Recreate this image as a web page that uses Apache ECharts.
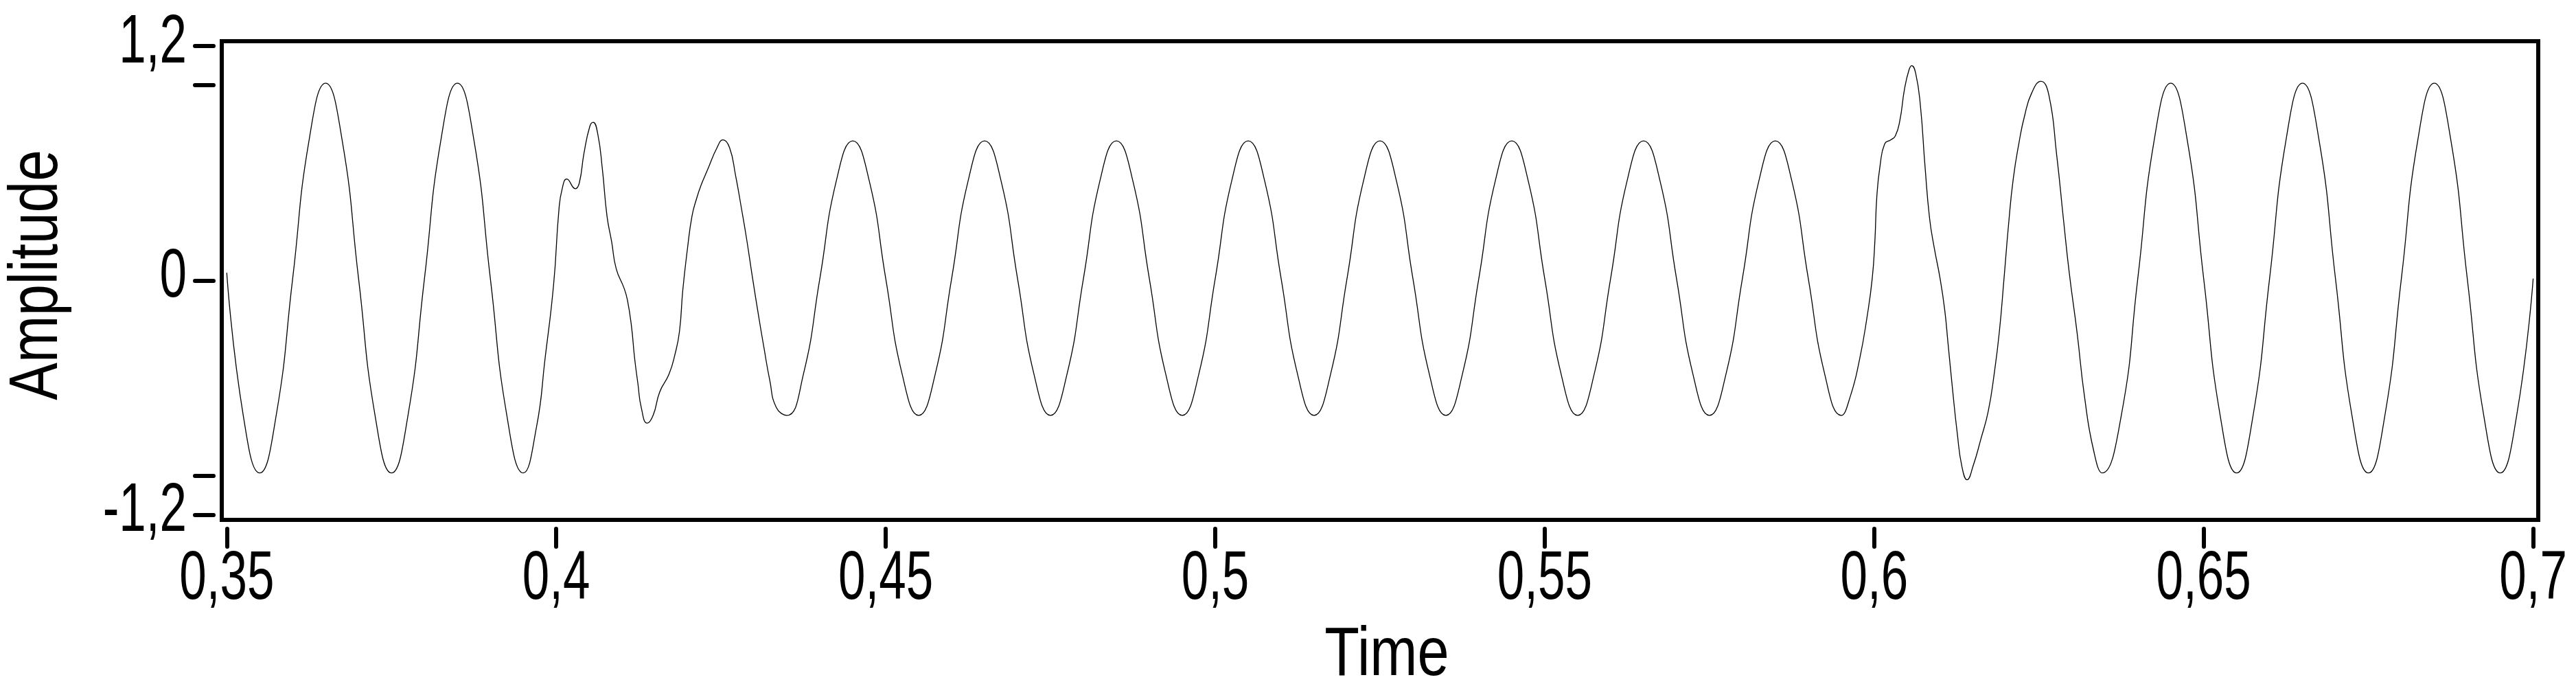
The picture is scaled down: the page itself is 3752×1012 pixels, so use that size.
<!DOCTYPE html>
<html>
<head>
<meta charset="utf-8">
<script src="https://cdn.jsdelivr.net/npm/echarts@6/dist/echarts.min.js"></script>
<style>
  html, body { margin: 0; padding: 0; background: #fff; }
  #chart { width: 3752px; height: 1012px; }
</style>
</head>
<body>
<div id="chart"></div>
<script>
// waveform (time in s, amplitude in p.u.)
const times = [
  0.35, 0.3525, 0.355, 0.3575, 0.36, 0.3625, 0.365, 0.3675, 0.37, 0.3725,
  0.375, 0.3775, 0.38, 0.3825, 0.385, 0.3875, 0.39, 0.3925, 0.395,
  // first disturbance
  0.397, 0.3983, 0.3996, 0.4004, 0.4009, 0.4016, 0.4029, 0.4035, 0.4042, 0.4051,
  0.4056, 0.4063, 0.407, 0.4077, 0.4084, 0.4091, 0.4103, 0.4108, 0.4114, 0.4119,
  0.4124, 0.4129, 0.4138, 0.4147, 0.4157, 0.4171, 0.418, 0.4187, 0.4192, 0.4199,
  0.4206, 0.4213, 0.422, 0.423, 0.4244, 0.4253, 0.4263, 0.4272, 0.4281, 0.4289,
  0.4298, 0.4307, 0.4315, 0.4324, 0.4334, 0.435,
  // sag
  0.4375, 0.44, 0.4425, 0.445, 0.4475, 0.45, 0.4525, 0.455,
  0.4575, 0.46, 0.4625, 0.465, 0.4675, 0.47, 0.4725, 0.475,
  0.4775, 0.48, 0.4825, 0.485, 0.4875, 0.49, 0.4925, 0.495,
  0.4975, 0.5, 0.5025, 0.505, 0.5075, 0.51, 0.5125, 0.515,
  0.5175, 0.52, 0.5225, 0.525, 0.5275, 0.53, 0.5325, 0.535,
  0.5375, 0.54, 0.5425, 0.545, 0.5475, 0.55, 0.5525, 0.555,
  0.5575, 0.56, 0.5625, 0.565, 0.5675, 0.57, 0.5725, 0.575,
  0.5775, 0.58, 0.5825, 0.585, 0.5875, 0.59, 0.5925, 0.595,
  // recovery
  0.5964, 0.5978, 0.5989, 0.5997, 0.6001, 0.6004, 0.6009, 0.6016, 0.6025, 0.6032,
  0.6039, 0.6046, 0.6053, 0.6057, 0.6063, 0.607, 0.6077, 0.6084, 0.6091, 0.61,
  0.6107, 0.6112, 0.6119, 0.6126, 0.6133, 0.6141, 0.615, 0.6162, 0.6173, 0.6182,
  0.619, 0.6197, 0.6204, 0.6211, 0.622, 0.6228, 0.6239, 0.6253, 0.6265, 0.6277,
  0.6287, 0.6296, 0.6308, 0.6319, 0.6333, 0.6346,
  0.6375, 0.64, 0.6425, 0.645, 0.6475, 0.65, 0.6525, 0.655,
  0.6575, 0.66, 0.6625, 0.665, 0.6675, 0.67, 0.6725, 0.675,
  0.6775, 0.68, 0.6825, 0.685, 0.6875, 0.69, 0.6925, 0.695,
  0.6975, 0.7
];
const amplitude = [
  0.04, -0.69, -0.985, -0.69, 0.01, 0.72, 1.01, 0.72, 0.01, -0.69,
  -0.985, -0.69, 0.01, 0.72, 1.01, 0.72, 0.01, -0.69, -0.985,
  -0.75, -0.40, -0.02, 0.36, 0.47, 0.52, 0.47, 0.50, 0.65, 0.79,
  0.81, 0.75, 0.57, 0.33, 0.20, 0.06, -0.04, -0.10, -0.23, -0.40,
  -0.53, -0.65, -0.73, -0.69, -0.57, -0.48, -0.38, -0.26, -0.05, 0.16,
  0.33, 0.42, 0.49, 0.57, 0.68, 0.72, 0.68, 0.54, 0.37, 0.21,
  0.01, -0.18, -0.34, -0.51, -0.65, -0.69,
  -0.48, 0.01, 0.51, 0.715, 0.51, 0.01, -0.48, -0.69,
  -0.48, 0.01, 0.51, 0.715, 0.51, 0.01, -0.48, -0.69,
  -0.48, 0.01, 0.51, 0.715, 0.51, 0.01, -0.48, -0.69,
  -0.48, 0.01, 0.51, 0.715, 0.51, 0.01, -0.48, -0.69,
  -0.48, 0.01, 0.51, 0.715, 0.51, 0.01, -0.48, -0.69,
  -0.48, 0.01, 0.51, 0.715, 0.51, 0.01, -0.48, -0.69,
  -0.48, 0.01, 0.51, 0.715, 0.51, 0.01, -0.48, -0.69,
  -0.48, 0.01, 0.51, 0.715, 0.51, 0.01, -0.48, -0.69,
  -0.59, -0.40, -0.19, 0.01, 0.20, 0.43, 0.59, 0.70, 0.72, 0.74,
  0.82, 0.98, 1.08, 1.10, 1.06, 0.90, 0.59, 0.32, 0.17, 0.01,
  -0.15, -0.32, -0.56, -0.78, -0.95, -1.02, -0.95, -0.81, -0.67, -0.48,
  -0.26, 0.01, 0.29, 0.52, 0.71, 0.84, 0.96, 1.02, 0.95, 0.64,
  0.32, 0.04, -0.27, -0.59, -0.87, -0.985,
  -0.69, 0.01, 0.72, 1.01, 0.72, 0.01, -0.69, -0.985,
  -0.69, 0.01, 0.72, 1.01, 0.72, 0.01, -0.69, -0.985,
  -0.69, 0.01, 0.72, 1.01, 0.72, 0.01, -0.69, -0.985,
  -0.69, 0.01
];

const xTicks = [0.35, 0.4, 0.45, 0.5, 0.55, 0.6, 0.65, 0.7];
const yTicks = [-1.2, -1, 0, 1, 1.2];
const yLabels = [-1.2, 0, 1.2];

// no condensed face installed, so the text is squeezed with scaleX instead
const FONT = "'Liberation Sans', Arial, sans-serif";
const fmt = (v) => String(+(+v).toFixed(2)).replace('.', ',');

const chart = echarts.init(document.getElementById('chart'), null, { renderer: 'canvas' });

chart.setOption({
  animation: false,
  backgroundColor: '#fff',
  grid: {
    left: 323,
    right: 55,
    top: 60,
    bottom: 255,
    show: true,
    borderColor: '#000',
    borderWidth: 6,
    backgroundColor: 'transparent'
  },
  xAxis: {
    type: 'value',
    min: 0.34924,
    max: 0.70077,
    offset: 13,
    axisLine: { show: false, onZero: false },
    splitLine: { show: false },
    axisTick: {
      show: true,
      length: 26,
      customValues: xTicks,
      lineStyle: { color: '#000', width: 6, cap: 'round' }
    },
    axisLabel: { show: false }
  },
  yAxis: {
    type: 'value',
    min: -1.225,
    max: 1.225,
    offset: 12,
    axisLine: { show: false, onZero: false },
    splitLine: { show: false },
    axisTick: {
      show: true,
      length: 27,
      customValues: yTicks,
      lineStyle: { color: '#000', width: 6, cap: 'round' }
    },
    axisLabel: { show: false }
  },
  series: [
    {
      type: 'line',
      data: times.map((t, i) => [t, amplitude[i]]),
      showSymbol: false,
      smooth: 0.5,
      lineStyle: { color: '#000', width: 1.3 }
    }
  ]
});

// labels and axis names, placed with the axes' own scales
const txt = (text, x, y, align, sx, rot) => ({
  type: 'text',
  x: x,
  y: y,
  scaleX: sx,
  rotation: rot || 0,
  silent: true,
  style: {
    text: text,
    fill: '#000',
    font: '100px ' + FONT,
    textAlign: align,
    textVerticalAlign: 'middle'
  }
});

const labels = [];
xTicks.forEach((v) => {
  const px = chart.convertToPixel({ xAxisIndex: 0 }, v);
  labels.push(txt(fmt(v), px, 844, 'center', 0.71));
});
yLabels.forEach((v) => {
  const py = chart.convertToPixel({ yAxisIndex: 0 }, v);
  labels.push(txt(fmt(v), 272, py - 4, 'right', 0.71));
});
const midX = chart.convertToPixel({ xAxisIndex: 0 }, (0.35 + 0.7) / 2);
const midY = chart.convertToPixel({ yAxisIndex: 0 }, 0);
labels.push(txt('Time', midX + 10, 955, 'center', 0.83));
labels.push(txt('Amplitude', 55, midY - 8, 'center', 0.82, Math.PI / 2));

chart.setOption({ graphic: labels });
</script>
</body>
</html>
